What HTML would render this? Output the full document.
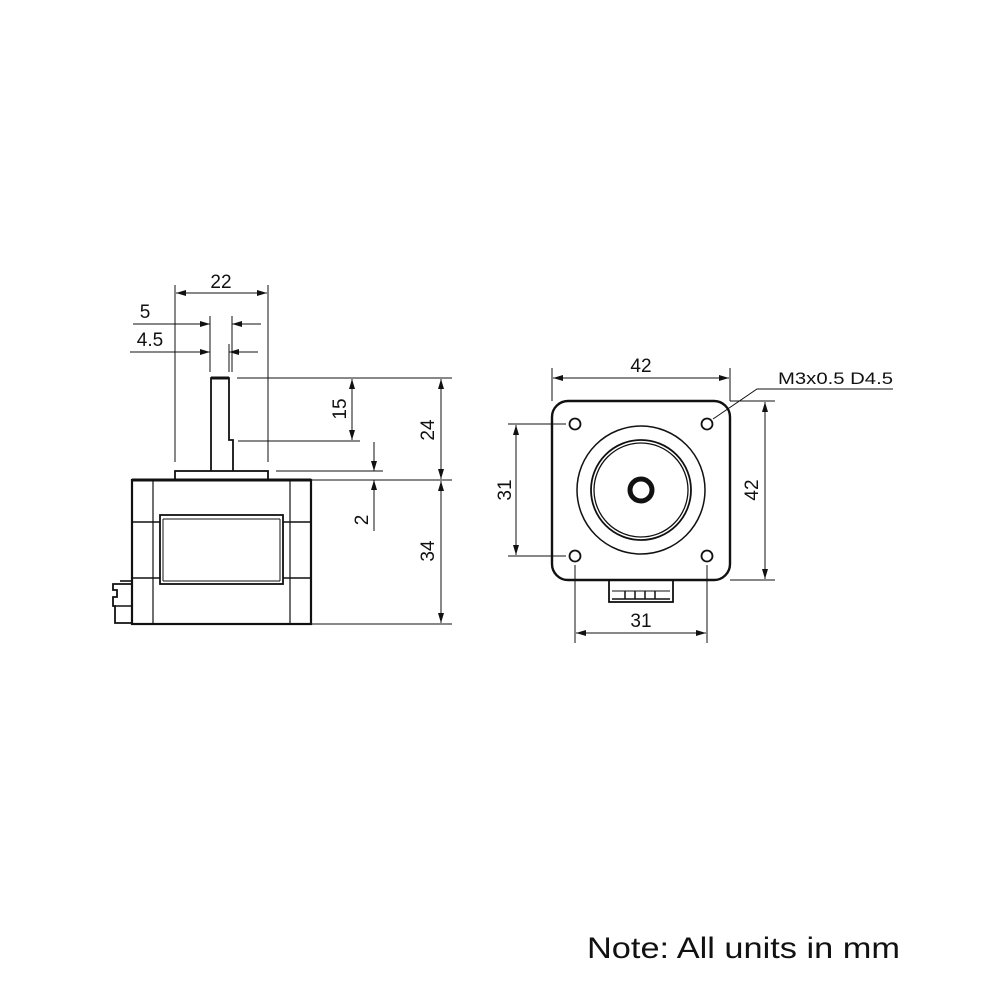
<!DOCTYPE html>
<html><head><meta charset="utf-8"><style>
html,body{margin:0;padding:0;background:#fff;}
svg{display:block;}
text{font-family:"Liberation Sans",sans-serif;fill:#111;}
</style></head><body>
<svg width="1000" height="1000" viewBox="0 0 1000 1000" xmlns="http://www.w3.org/2000/svg">
<defs>
<marker id="a" viewBox="0 0 10 6" refX="10" refY="3" markerWidth="10" markerHeight="6" markerUnits="userSpaceOnUse" orient="auto-start-reverse"><path d="M0,0 L10,3 L0,6 Z" fill="#111"/></marker>
</defs>
<g stroke="#111" fill="none">
<rect x="132" y="480" width="179" height="144" stroke-width="2.2"/>
<line x1="132" y1="480" x2="311" y2="480" stroke-width="3"/>
<line x1="153" y1="480" x2="153" y2="624" stroke-width="1.2"/>
<line x1="290" y1="480" x2="290" y2="624" stroke-width="1.2"/>
<line x1="132" y1="522" x2="160" y2="522" stroke-width="1.6"/>
<line x1="283" y1="522" x2="311" y2="522" stroke-width="1.6"/>
<line x1="132" y1="578" x2="160" y2="578" stroke-width="1.6"/>
<line x1="283" y1="578" x2="311" y2="578" stroke-width="1.6"/>
<rect x="160" y="515" width="123" height="69" stroke-width="1.8"/>
<line x1="163" y1="519" x2="163" y2="581" stroke-width="1"/>
<line x1="280" y1="519" x2="280" y2="581" stroke-width="1"/>
<line x1="163" y1="519" x2="280" y2="519" stroke-width="1"/>
<line x1="163" y1="581" x2="280" y2="581" stroke-width="1"/>
<rect x="175" y="471" width="93" height="9" stroke-width="1.8"/>
<path d="M211,471 L211,378 L229,378 L229,440 L233,440 L233,471" stroke-width="1.8"/>
<line x1="211" y1="378" x2="229" y2="378" stroke-width="3"/>
<path d="M132,584 L113,584 L113,590 L117,590 L117,597 L113,597 L113,606 L115,606 L115,623 L132,623" stroke-width="1.8"/>
<line x1="115" y1="606" x2="132" y2="606" stroke-width="1.6"/>
<line x1="120" y1="581" x2="132" y2="581" stroke-width="1.6"/>
<g stroke-width="1">
<line x1="175" y1="285" x2="175" y2="462"/>
<line x1="268" y1="285" x2="268" y2="462"/>
<line x1="176" y1="293" x2="267" y2="293" marker-start="url(#a)" marker-end="url(#a)"/>
<line x1="133" y1="324" x2="210" y2="324" marker-end="url(#a)"/>
<line x1="261" y1="324" x2="232" y2="324" marker-end="url(#a)"/>
<line x1="210" y1="316" x2="210" y2="372"/>
<line x1="232" y1="316" x2="232" y2="372"/>
<line x1="130" y1="352" x2="210" y2="352" marker-end="url(#a)"/>
<line x1="258" y1="352" x2="229" y2="352" marker-end="url(#a)"/>
<line x1="229" y1="344" x2="229" y2="372"/>
<line x1="237" y1="378" x2="452" y2="378"/>
<line x1="238" y1="441" x2="360" y2="441"/>
<line x1="352" y1="379" x2="352" y2="440" marker-start="url(#a)" marker-end="url(#a)"/>
<line x1="311" y1="480" x2="452" y2="480"/>
<line x1="441" y1="379" x2="441" y2="479" marker-start="url(#a)" marker-end="url(#a)"/>
<line x1="276" y1="471" x2="383" y2="471"/>
<line x1="374" y1="442" x2="374" y2="471" marker-end="url(#a)"/>
<line x1="374" y1="531" x2="374" y2="480" marker-end="url(#a)"/>
<line x1="311" y1="624" x2="452" y2="624"/>
<line x1="441" y1="481" x2="441" y2="623" marker-start="url(#a)" marker-end="url(#a)"/>
</g>
<rect x="552" y="401" width="178" height="179" rx="16" stroke-width="2.4"/>
<circle cx="575" cy="424" r="5.5" stroke-width="1.8"/>
<circle cx="707" cy="424" r="5.5" stroke-width="1.8"/>
<circle cx="575" cy="556" r="5.5" stroke-width="1.8"/>
<circle cx="707" cy="556" r="5.5" stroke-width="1.8"/>
<circle cx="641" cy="490" r="64" stroke-width="1.5"/>
<circle cx="641" cy="490" r="50" stroke-width="1.8"/>
<circle cx="641" cy="490" r="47" stroke-width="1.3"/>
<circle cx="641" cy="490" r="11" stroke-width="5"/>
<rect x="609" y="580" width="64" height="22" stroke-width="1.8"/>
<line x1="612" y1="591" x2="670" y2="591" stroke-width="1"/>
<line x1="612" y1="599" x2="670" y2="599" stroke-width="1.6"/>
<line x1="625" y1="591" x2="625" y2="599" stroke-width="1.5"/>
<line x1="635" y1="591" x2="635" y2="599" stroke-width="1.5"/>
<line x1="645" y1="591" x2="645" y2="599" stroke-width="1.5"/>
<line x1="655" y1="591" x2="655" y2="599" stroke-width="1.5"/>
<g stroke-width="1">
<line x1="552" y1="368" x2="552" y2="401"/>
<line x1="730" y1="368" x2="730" y2="401"/>
<line x1="553" y1="378" x2="729" y2="378" marker-start="url(#a)" marker-end="url(#a)"/>
<line x1="730" y1="401" x2="775" y2="401"/>
<line x1="730" y1="580" x2="775" y2="580"/>
<line x1="765" y1="402" x2="765" y2="579" marker-start="url(#a)" marker-end="url(#a)"/>
<line x1="508" y1="424" x2="566" y2="424"/>
<line x1="508" y1="556" x2="566" y2="556"/>
<line x1="516" y1="425" x2="516" y2="555" marker-start="url(#a)" marker-end="url(#a)"/>
<line x1="575" y1="565" x2="575" y2="643"/>
<line x1="707" y1="565" x2="707" y2="643"/>
<line x1="576" y1="633" x2="706" y2="633" marker-start="url(#a)" marker-end="url(#a)"/>
<polyline points="893,389 757,389 713,419"/>
</g>
</g>
<g font-size="19">
<text x="221" y="288" text-anchor="middle">22</text>
<text x="145" y="318" text-anchor="middle">5</text>
<text x="150" y="346" text-anchor="middle">4.5</text>
<text transform="translate(346,409) rotate(-90)" text-anchor="middle">15</text>
<text transform="translate(434,430) rotate(-90)" text-anchor="middle">24</text>
<text transform="translate(368,520) rotate(-90)" text-anchor="middle">2</text>
<text transform="translate(434,551) rotate(-90)" text-anchor="middle">34</text>
<text x="641" y="372" text-anchor="middle">42</text>
<text x="778" y="384" font-size="17" textLength="115" lengthAdjust="spacingAndGlyphs">M3x0.5 D4.5</text>
<text transform="translate(758,490) rotate(-90)" text-anchor="middle">42</text>
<text transform="translate(511,490) rotate(-90)" text-anchor="middle">31</text>
<text x="641" y="627" text-anchor="middle">31</text>
</g>
<text x="587" y="958" font-size="30" textLength="313" lengthAdjust="spacingAndGlyphs">Note: All units in mm</text>
</svg>
</body></html>
